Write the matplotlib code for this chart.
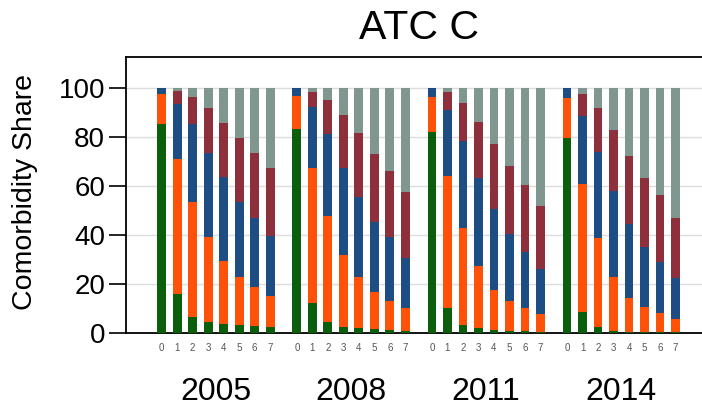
import numpy as np
import matplotlib.pyplot as plt

plt.rcParams['font.family'] = ['Liberation Sans', 'DejaVu Sans']

years = ['2005', '2008', '2011', '2014']
levels = ['0', '1', '2', '3', '4', '5', '6', '7']

# comorbidity shares (%) per year, one row per year, one column per level 0-7
green = [[85.5, 15.8, 6.4, 4.4, 3.8, 3.3, 2.9, 2.4],
         [83.3, 12.1, 4.4, 2.6, 1.9, 1.6, 1.3, 1.0],
         [82.2, 10.3, 3.3, 2.0, 1.3, 1.0, 0.8, 0.6],
         [79.7, 8.7, 2.6, 1.0, 0.6, 0.5, 0.4, 0.3]]
orange = [[11.9, 55.1, 47.2, 34.7, 25.7, 19.7, 16.0, 12.8],
          [13.6, 55.1, 43.5, 29.2, 20.8, 15.0, 11.9, 9.1],
          [14.3, 53.9, 39.7, 25.5, 16.3, 12.2, 9.5, 7.2],
          [16.1, 52.0, 36.0, 22.0, 13.8, 10.0, 7.6, 5.3]]
blue = [[2.6, 22.4, 31.6, 34.2, 34.0, 30.6, 28.2, 24.5],
        [3.1, 25.2, 33.2, 35.7, 32.9, 28.8, 25.9, 20.4],
        [3.5, 26.8, 35.5, 35.6, 33.0, 27.1, 22.9, 18.2],
        [4.2, 28.0, 35.1, 35.0, 30.0, 24.7, 21.1, 17.0]]
maroon = [[0.0, 5.5, 11.3, 18.7, 22.3, 26.1, 26.2, 27.5],
          [0.0, 6.1, 14.0, 21.5, 25.9, 27.7, 27.2, 26.9],
          [0.0, 7.2, 15.2, 23.2, 26.4, 28.0, 27.2, 26.0],
          [0.0, 8.9, 18.3, 24.9, 27.8, 28.2, 27.2, 24.5]]
grey = [[0.0, 1.2, 3.5, 8.0, 14.2, 20.3, 26.7, 32.8],
        [0.0, 1.5, 4.9, 11.0, 18.5, 26.9, 33.7, 42.6],
        [0.0, 1.8, 6.3, 13.7, 23.0, 31.7, 39.6, 48.0],
        [0.0, 2.4, 8.0, 17.1, 27.8, 36.6, 43.7, 52.9]]

series = [green, orange, blue, maroon, grey]
colors = ['#0b5e0b', '#ff5208', '#1d4d82', '#8e2f3c', '#7f978e']

group_step = 8.72
x = np.concatenate([g * group_step + np.arange(len(levels)) for g in range(len(years))])

fig = plt.figure(figsize=(7.02, 4.08), dpi=100)
ax = fig.add_axes([0.1795, 0.1838, 0.8205, 0.6765])

bottom = np.zeros(len(x))
for vals, col in zip(series, colors):
    v = np.array(vals).ravel()
    ax.bar(x, v, width=0.56, bottom=bottom, color=col, linewidth=0, zorder=3)
    bottom += v

ax.set_xlim(-2.3, 34.86)
ax.set_ylim(0, 112.65)
ax.set_yticks([0, 20, 40, 60, 80, 100])
ax.yaxis.grid(True, color='#dcdcdc', linewidth=1.0, zorder=0)
ax.set_axisbelow(True)

ax.set_xticks(x)
ax.set_xticklabels(levels * len(years), fontsize=7, color='#555555')
ax.tick_params(axis='x', length=0, pad=7)
ax.tick_params(axis='y', length=12, width=1.2, labelsize=20, pad=3)

# year under each group of bars
for g, yr in enumerate(years):
    ax.text(g * group_step + 3.5, -0.212, yr, transform=ax.get_xaxis_transform(),
            ha='center', va='center', fontsize=23)

ax.spines['right'].set_visible(False)
for s in ['left', 'bottom', 'top']:
    ax.spines[s].set_linewidth(1.3)

fig.text(25 / 702, 1 - 192 / 408, 'Comorbidity Share', rotation=90,
         ha='center', va='center', fontsize=20.5)
fig.text(419 / 702, 1 - 28 / 408, 'ATC C', ha='center', va='center', fontsize=29.5)

fig.savefig('out.png', dpi=100)
